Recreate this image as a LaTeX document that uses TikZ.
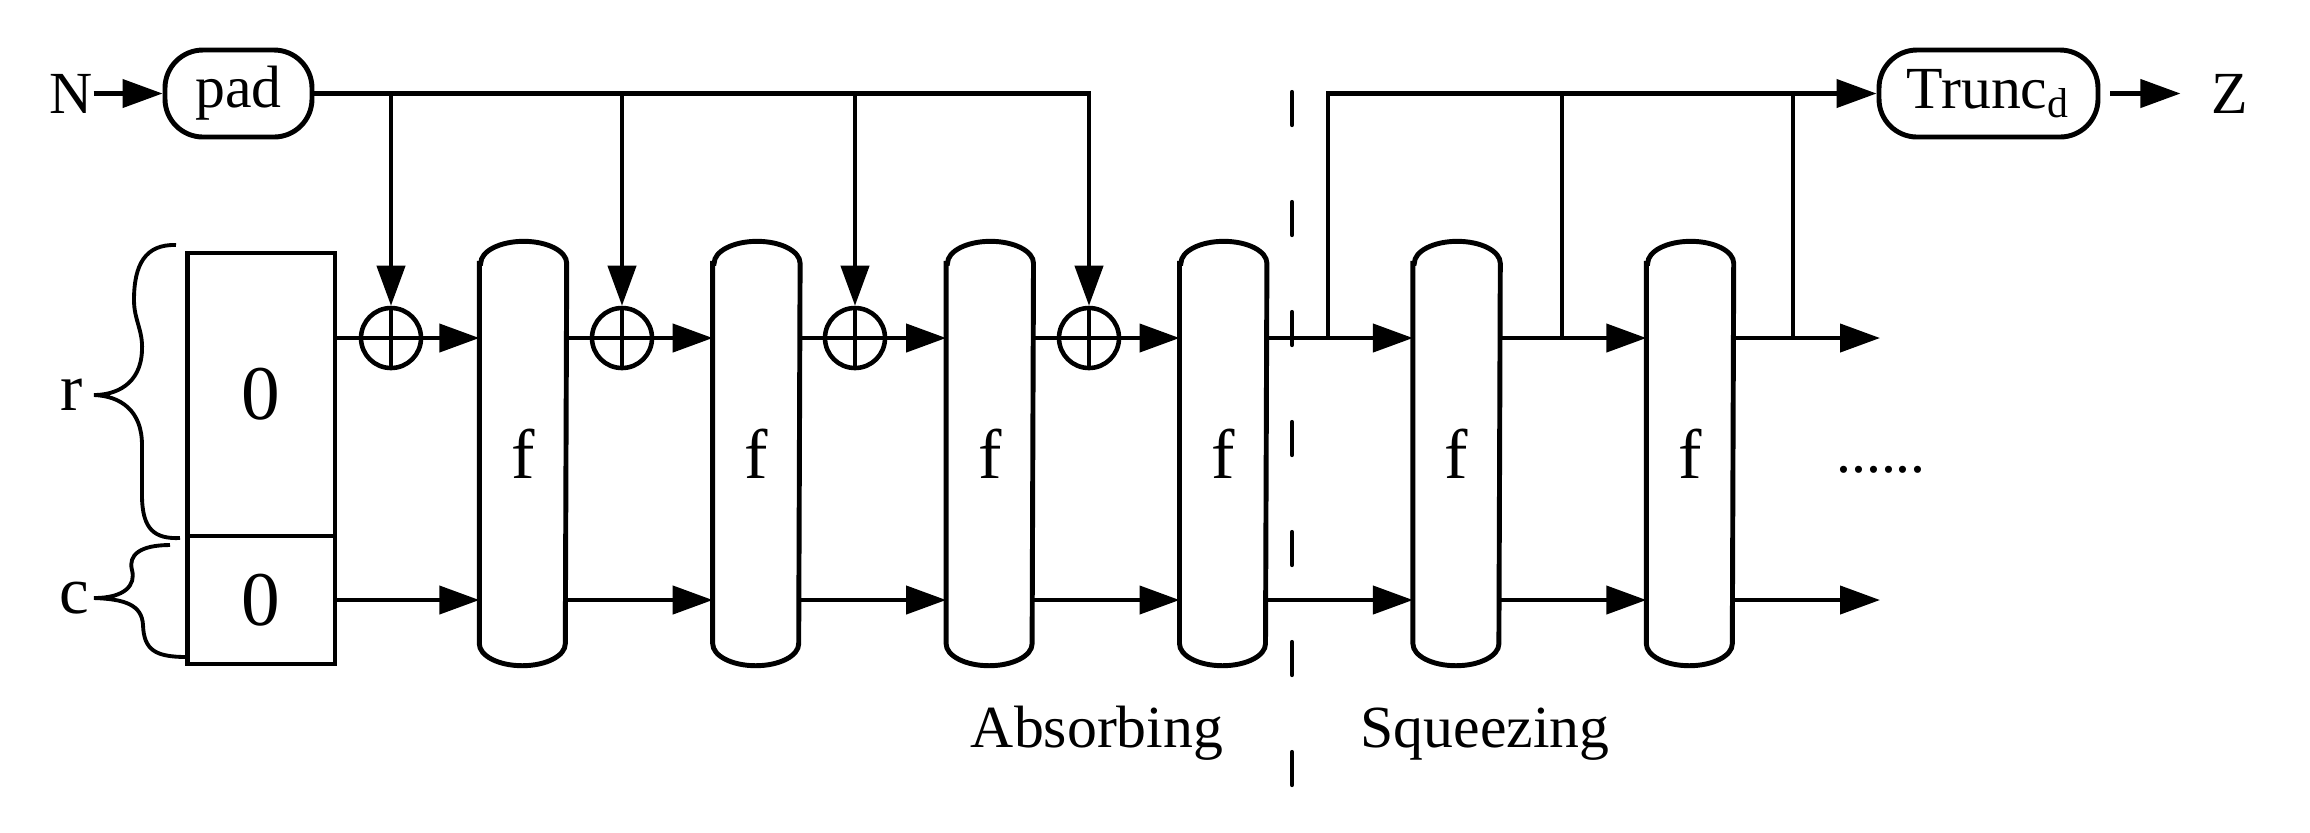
\documentclass[tikz,border=0pt]{standalone}
\usepackage{fontspec}
\setmainfont{Liberation Serif}
\usetikzlibrary{arrows.meta, positioning, calc}
\tikzset{
  conn/.style={line width=1.2pt},
  arrow/.style={conn, -{Triangle[length=4mm, width=2.8mm]}},
  capsule/.style={draw, line width=1.4pt, rounded corners=3.8mm, minimum height=8.7mm, inner sep=0, font=\fontsize{17}{20}\selectfont},
  statebox/.style={draw, line width=1.4pt, minimum width=14.75mm, inner sep=0, outer sep=0, font=\fontsize{22}{26}\selectfont},
  fbox/.style={minimum width=8.6mm, minimum height=42.3mm, inner sep=0, font=\fontsize{20}{24}\selectfont},
  capline/.style={line width=1.4pt},
  xorop/.style={circle, draw, line width=1.3pt, minimum size=6mm, inner sep=0,
    path picture={\draw[line width=1.3pt] (path picture bounding box.north) -- (path picture bounding box.south)
      (path picture bounding box.west) -- (path picture bounding box.east);}},
  lbl/.style={inner sep=0, font=\fontsize{17}{20}\selectfont},
  bracel/.style={line width=1.1pt},
  phase/.style={line width=1.2pt, line cap=round, dash pattern=on 3.3mm off 7.7mm}
}
\begin{document}
\begin{tikzpicture}[x=0.1mm, y=-0.1mm]
    \useasboundingbox (0,0) rectangle (2310,832);
    % input and padding
    \node[capsule, minimum width=14.7mm] (pad) at (238.5,93.5) {pad};
    \node[lbl, left=6.9mm of pad] (N) {N};
    \draw[arrow] (N.east) -- (pad.west);

    % initial state
    \node[statebox, minimum height=28.3mm] (rpart) at (261.25,394.5) {0};
    \node[statebox, minimum height=12.8mm, below=0pt of rpart] (cpart) {0};
    \node[lbl, font=\fontsize{19}{22}\selectfont] (rlab) at (72,395) {r};
    \node[lbl, font=\fontsize{19}{22}\selectfont] (clab) at (74,598) {c};
    \draw[bracel] (176,245) .. controls (145,244) and (134,265) .. (134,300)
      .. controls (134,320) and (143,330) .. (142,350)
      .. controls (141,385) and (115,395) .. (94,395)
      .. controls (120,396) and (142,410) .. (142,445) -- (142,495)
      .. controls (142,530) and (155,539) .. (180,538);
    \draw[bracel] (170,545) .. controls (140,545) and (128,555) .. (132,570)
      .. controls (136,585) and (125,598) .. (94,598)
      .. controls (125,599) and (142,605) .. (143,625)
      .. controls (144,650) and (155,657) .. (187,657);

    % permutations f
    \foreach \i in {1,...,6} {
      \node[fbox] (f\i) at ({523+233.4*(\i-1)},453.5) {f};
      \draw[capline] ($(f\i.north west)+(0,22)$) -- ($(f\i.south west)+(0,-22)$)
        arc[start angle=180, end angle=360, x radius=4.3mm, y radius=2.2mm]
        -- ($(f\i.north east)+(0,22)$)
        arc[start angle=0, end angle=180, x radius=4.3mm, y radius=2.2mm] -- cycle;
    }
    \foreach \i/\x in {1/391, 2/622, 3/855, 4/1089}
      \node[xorop] (xor\i) at (\x,338) {};

    % absorbing
    \draw[arrow] (pad.east) -| (xor4.north);
    \foreach \i in {1,2,3}
      \draw[arrow] (xor\i |- pad.east) -- (xor\i.north);
    \draw[conn] (rpart.east |- xor1) -- (xor1.west);
    \draw[arrow] (xor1.east) -- (f1.west |- xor1);
    \foreach \i/\j in {1/2, 2/3, 3/4} {
      \draw[conn] (f\i.east |- xor\j) -- (xor\j.west);
      \draw[arrow] (xor\j.east) -- (f\j.west |- xor\j);
    }
    \draw[arrow] (cpart.east) -- (f1.west |- cpart.east);
    \foreach \i/\j in {1/2, 2/3, 3/4, 4/5, 5/6}
      \draw[arrow] (f\i.east |- cpart.east) -- (f\j.west |- cpart.east);

    % squeezing
    \draw[arrow] (f4.east |- xor1) -- (f5.west |- xor1);
    \draw[arrow] (f5.east |- xor1) -- (f6.west |- xor1);
    \coordinate (outr) at (1880,338);
    \coordinate (outc) at (outr |- cpart.east);
    \draw[arrow] (f6.east |- xor1) -- (outr);
    \draw[arrow] (f6.east |- cpart.east) -- (outc);

    \node[capsule, minimum width=21.9mm] (trunc) at (1988.5,93.5) {Trunc\textsubscript{d}};
    \node[lbl, right=11mm of trunc] (Z) {Z};
    \draw[arrow, shorten <=1mm, shorten >=3mm] (trunc.east) -- (Z.west);
    \coordinate (sq1) at (1328,338);
    \coordinate (sq2) at (1562,338);
    \coordinate (sq3) at (1793,338);
    \draw[arrow] (sq1) |- (trunc.west);
    \draw[conn] (sq2) -- (sq2 |- trunc.west);
    \draw[conn] (sq3) -- (sq3 |- trunc.west);

    % phases
    \coordinate (dtop) at (1292,92);
    \coordinate (dbot) at (1292,789);
    \draw[phase] (dtop) -- (dbot);
    \node[lbl, anchor=base] (absorb) at (1097,747) {Absorbing};
    \node[lbl, anchor=base] (squeeze) at (1485,747) {Squeezing};
    \node[lbl, anchor=base] (dots) at (1881,472) {......};
\end{tikzpicture}
\end{document}
